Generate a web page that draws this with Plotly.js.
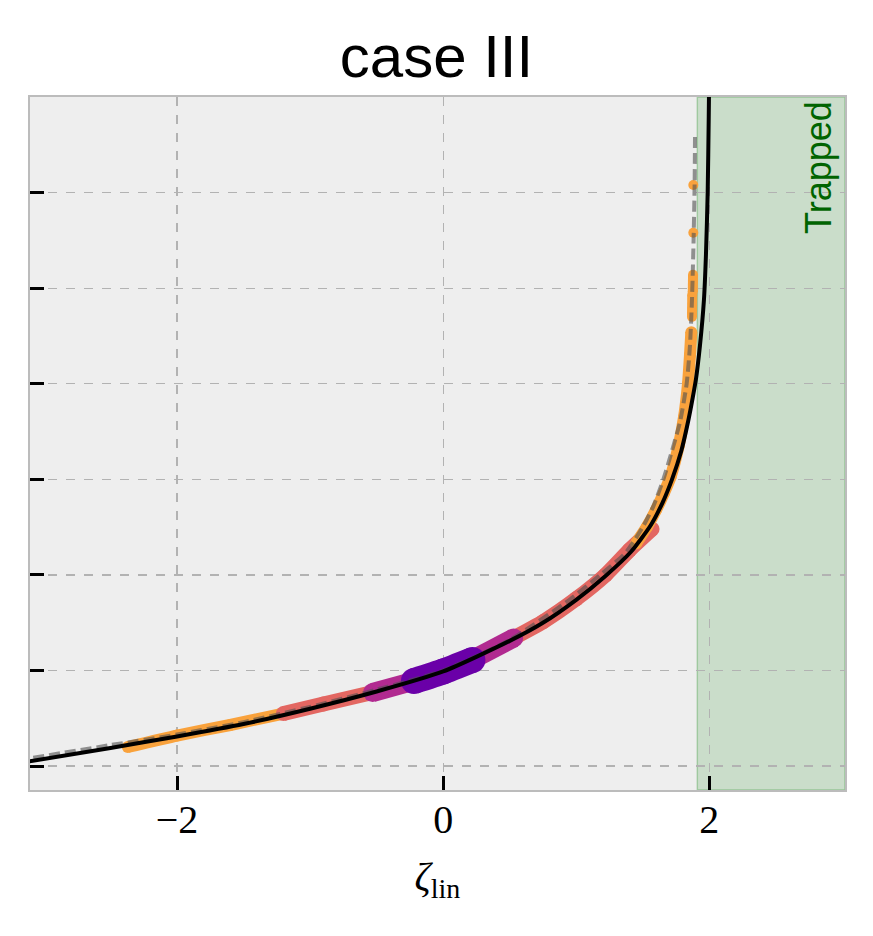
<!DOCTYPE html>
<html>
<head>
<meta charset="utf-8">
<script src="https://cdn.plot.ly/plotly-3.0.1.min.js"></script>
<style>
  html, body { margin: 0; padding: 0; background: white; }
  #chart { width: 873px; height: 936px; }
</style>
</head>
<body>
<div id="chart"></div>
<script>
// theory curve (solid black)
var zetaTheory = [-3.2, -2.5, -2.0, -1.5, -1.0, -0.5, 0.0, 0.5, 0.75, 1.0, 1.22, 1.41, 1.56, 1.65, 1.72, 1.79, 1.84, 1.875, 1.90, 1.93, 1.96, 1.975, 1.988, 1.996, 2.0];
var ampTheory  = [0.03, 0.19, 0.31, 0.44, 0.60, 0.78, 0.99, 1.31, 1.50, 1.74, 1.99, 2.24, 2.52, 2.76, 3.00, 3.30, 3.60, 3.85, 4.05, 4.40, 4.88, 5.35, 6.00, 6.80, 7.30];

// approximate curve (grey dashed)
var zetaApprox = [-3.2, -2.5, -2.0, -1.5, -1.0, -0.5, 0.0, 0.5, 0.95, 1.18, 1.37, 1.50, 1.58, 1.655, 1.72, 1.78, 1.83, 1.855, 1.87, 1.882, 1.89, 1.893];
var ampApprox  = [0.06, 0.22, 0.33, 0.46, 0.62, 0.80, 1.00, 1.32, 1.74, 2.00, 2.23, 2.50, 2.72, 3.00, 3.30, 3.60, 4.00, 4.40, 4.88, 5.50, 6.10, 6.63];

// simulation runs, coloured by group
var zetaOrangeL = [-2.37, -2.0, -1.6, -1.2];
var ampOrangeL  = [0.20, 0.32, 0.43, 0.55];
var zetaSalmonL = [-1.2, -0.9, -0.53];
var ampSalmonL  = [0.55, 0.65, 0.77];
var zetaMagentaL = [-0.53, -0.22];
var ampMagentaL  = [0.77, 0.89];
var zetaPurple = [-0.22, 0.0, 0.22];
var ampPurple  = [0.89, 0.99, 1.11];
var zetaMagentaR = [0.2, 0.53];
var ampMagentaR  = [1.10, 1.34];
var zetaSalmonR = [0.5, 0.75, 1.0, 1.22, 1.4, 1.57];
var ampSalmonR  = [1.32, 1.51, 1.75, 2.00, 2.26, 2.48];
var zetaOrangeR = [1.45, 1.53, 1.6, 1.66, 1.71, 1.77, 1.81, 1.84, 1.855, 1.865];
var ampOrangeR  = [2.33, 2.50, 2.68, 2.86, 3.03, 3.35, 3.65, 4.00, 4.30, 4.54];
var zetaOrangeSeg1 = [1.87, 1.872];
var ampOrangeSeg1  = [4.70, 4.93];
var zetaOrangeSeg2 = [1.876, 1.878];
var ampOrangeSeg2  = [4.96, 5.14];
var zetaOrangeDots = [1.88, 1.88];
var ampOrangeDots  = [5.58, 6.08];

var trappedStart = 1.91;
var xTicks = [-2, 0, 2];
var yTicks = [0, 1, 2, 3, 4, 5, 6];

var orange = '#f9a23c';
var salmon = '#e36762';
var magenta = '#b12a90';
var purple = '#6a00a8';

function band(x, y, color, w) {
  return {
    x: x, y: y, type: 'scatter', mode: 'lines+markers',
    line: {color: color, width: w, shape: 'spline', smoothing: 0.5},
    marker: {color: color, size: w},
    showlegend: false
  };
}

var data = [
  band(zetaOrangeL, ampOrangeL, orange, 12),
  band(zetaSalmonL, ampSalmonL, salmon, 15),
  band(zetaSalmonR, ampSalmonR, salmon, 15),
  band(zetaMagentaL, ampMagentaL, magenta, 19),
  band(zetaMagentaR, ampMagentaR, magenta, 19),
  band(zetaPurple, ampPurple, purple, 26),
  band(zetaOrangeR, ampOrangeR, orange, 12),
  band(zetaOrangeSeg1, ampOrangeSeg1, orange, 10),
  band(zetaOrangeSeg2, ampOrangeSeg2, orange, 10),
  {
    x: zetaOrangeDots, y: ampOrangeDots, type: 'scatter', mode: 'markers',
    marker: {color: orange, size: 10}, showlegend: false
  },
  {
    x: zetaApprox, y: ampApprox, type: 'scatter', mode: 'lines',
    line: {color: 'rgba(80,80,80,0.6)', width: 4, dash: '11px,5px', shape: 'spline', smoothing: 0.6},
    showlegend: false
  },
  {
    x: zetaTheory, y: ampTheory, type: 'scatter', mode: 'lines',
    line: {color: 'black', width: 4, shape: 'spline', smoothing: 0.6},
    showlegend: false
  }
];

var layout = {
  width: 873,
  height: 936,
  margin: {l: 30, r: 28, t: 97, b: 146},
  paper_bgcolor: 'white',
  plot_bgcolor: '#eeeeee',
  showlegend: false,
  title: {
    text: 'case III',
    font: {family: 'Liberation Sans, Arial, sans-serif', size: 60, color: 'black'},
    x: 0.5, xanchor: 'center',
    yref: 'container', y: 1 - 56 / 936, yanchor: 'middle'
  },
  xaxis: {
    range: [-3.105, 3.02],
    tickvals: xTicks,
    ticks: 'inside', ticklen: 14, tickwidth: 3, tickcolor: 'black',
    tickfont: {family: 'Liberation Serif, serif', size: 40, color: 'black'},
    ticklabelstandoff: -7,
    showgrid: true, gridcolor: '#b2b2b2', griddash: 'dash', gridwidth: 1.2,
    zeroline: false,
    showline: true, linecolor: '#bcbcbc', linewidth: 2, mirror: true,
    title: {
      text: '<i>ζ</i><sub>lin</sub>',
      font: {family: 'Liberation Serif, serif', size: 40, color: 'black'},
      standoff: 21
    }
  },
  yaxis: {
    range: [-0.25, 7.0],
    tickvals: yTicks,
    showticklabels: false,
    ticks: 'inside', ticklen: 14, tickwidth: 3, tickcolor: 'black',
    showgrid: true, gridcolor: '#b2b2b2', griddash: 'dash', gridwidth: 1.2,
    zeroline: false,
    showline: true, linecolor: '#bcbcbc', linewidth: 2, mirror: true
  },
  shapes: [{
    type: 'rect', layer: 'below',
    xref: 'x', yref: 'paper',
    x0: trappedStart, x1: 3.02, y0: 0, y1: 1,
    fillcolor: 'rgba(0,128,0,0.15)',
    line: {color: 'rgba(0,128,0,0.25)', width: 1.5}
  }],
  annotations: [{
    text: 'Trapped',
    xref: 'x', yref: 'paper',
    x: 2.82, y: 0.997,
    xanchor: 'center', yanchor: 'top',
    textangle: -90,
    showarrow: false,
    font: {family: 'Liberation Sans, Arial, sans-serif', size: 36, color: '#006400'}
  }]
};

Plotly.newPlot('chart', data, layout, {staticPlot: true});
</script>
</body>
</html>
